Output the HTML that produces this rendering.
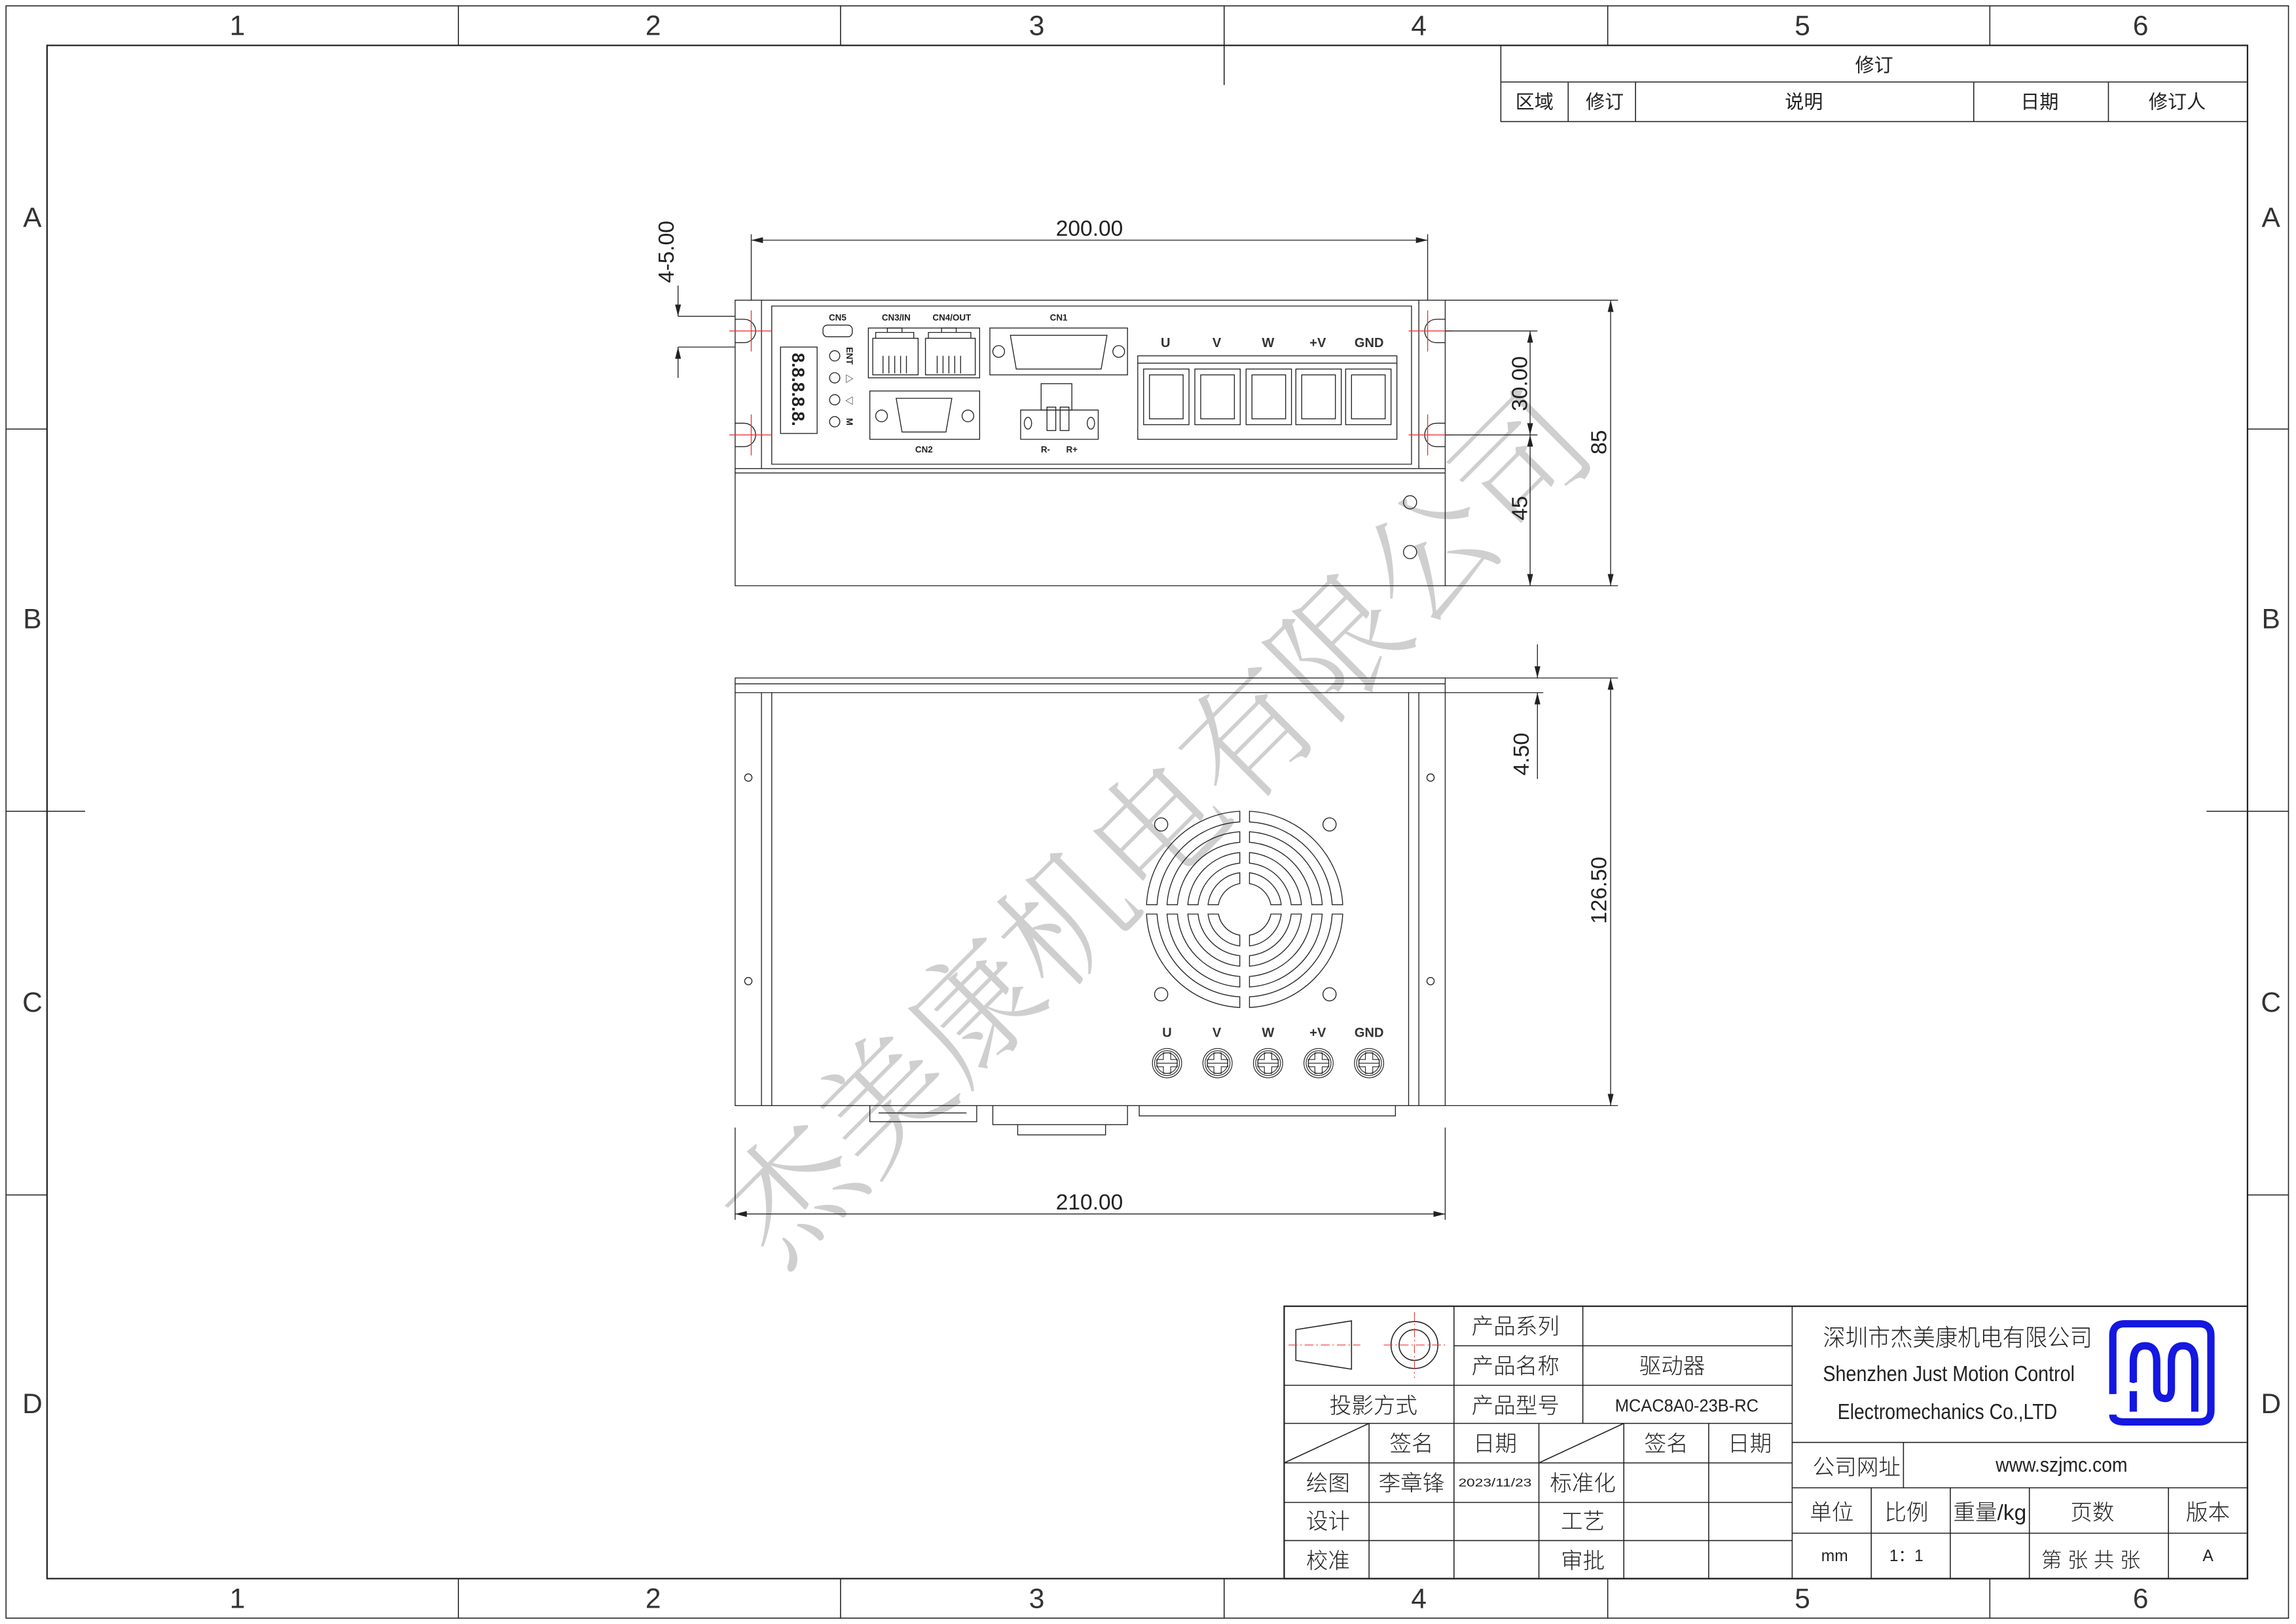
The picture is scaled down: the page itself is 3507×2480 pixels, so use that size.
<!DOCTYPE html>
<html><head><meta charset="utf-8"><style>
html,body{margin:0;padding:0;background:#fff}
svg{display:block}
text{font-family:"Liberation Sans","Noto Sans CJK SC",sans-serif}
.c{font-family:"Noto Sans CJK SC","Liberation Sans",sans-serif}
</style></head><body>
<svg width="3507" height="2480" viewBox="0 0 1568 1109" xmlns="http://www.w3.org/2000/svg">
<rect width="1568" height="1109" fill="#fff"/>
<g fill="none" stroke="#222" stroke-width="0.7">
<rect x="4" y="4" width="1559" height="1101"/>
<rect x="32" y="31" width="1503" height="1047" stroke-width="1"/>
<path d="M313 4V31M574 4V31M836 4V58M1098 4V31M1359 4V31M313 1078V1105M574 1078V1105M836 1078V1105M1098 1078V1105M1359 1078V1105"/>
<path d="M4 293H32M4 554H58M4 816H32M1535 293H1563M1507 554H1563M1535 816H1563"/>
</g>
<g font-size="19" fill="#333" text-anchor="middle" font-family="Liberation Sans">
<text x="162" y="24">1</text><text x="446" y="24">2</text><text x="708" y="24">3</text><text x="969" y="24">4</text><text x="1231" y="24">5</text><text x="1462" y="24">6</text>
<text x="162" y="1098">1</text><text x="446" y="1098">2</text><text x="708" y="1098">3</text><text x="969" y="1098">4</text><text x="1231" y="1098">5</text><text x="1462" y="1098">6</text>
<text x="22" y="155">A</text><text x="22" y="429">B</text><text x="22" y="691">C</text><text x="22" y="965">D</text>
<text x="1551" y="155">A</text><text x="1551" y="429">B</text><text x="1551" y="691">C</text><text x="1551" y="965">D</text>
</g>
<g fill="none" stroke="#222" stroke-width="0.7">
<rect x="1025" y="31" width="510" height="52"/>
<path d="M1025 56H1535M1071 56V83M1117 56V83M1348 56V83M1440 56V83"/>
</g>
<g class="c" font-size="13" fill="#222" text-anchor="middle">
<text x="1280" y="49">修订</text>
<text x="1048" y="74">区域</text><text x="1096" y="74">修订</text><text x="1232" y="74">说明</text><text x="1393" y="74">日期</text><text x="1487" y="74">修订人</text>
</g>

<text class="c" x="790" y="597" font-size="88" fill="#cfcfcf" text-anchor="middle" font-weight="300" transform="rotate(-45 790 565)" style="font-family:'Noto Serif CJK SC','Noto Sans CJK SC',serif">杰美康机电有限公司</text>

<g fill="none" stroke="#222" stroke-width="0.6">
<path d="M502 205H987V320H502Z"/>
<path d="M527 209H964V317H527Z"/>
<path d="M502 320V400H987V320M502 323H987"/>
<path d="M502 218H508A8 8 0 0 1 508 234H502M502 289H508A8 8 0 0 1 508 305H502"/>
<path d="M987 218H981A8 8 0 0 0 981 234H987M987 289H981A8 8 0 0 0 981 305H987"/>
<path d="M520 205V320M969 205V320"/>
<circle cx="963" cy="343" r="4.5"/><circle cx="963" cy="377" r="4.5"/>
<rect x="533" y="237" width="25" height="59"/>
<circle cx="570" cy="243" r="3.5"/><circle cx="570" cy="258" r="3.5"/><circle cx="570" cy="273" r="3.5"/><circle cx="570" cy="288" r="3.5"/>
<rect x="562" y="222" width="20" height="8" rx="3"/>
<rect x="593" y="224" width="76" height="34"/>
<path d="M596 231H627V256H596ZM598 231V227H624V231M606 227V224H616V227"/>
<path d="M632 231H666V256H632ZM634 231V227H663V231M643 227V224H653V227"/>
<path d="M603 243V255M607 243V255M611 243V255M615 243V255M619 243V255M640 243V255M644 243V255M648 243V255M652 243V255M656 243V255"/>
<rect x="676" y="224" width="94" height="32"/>
<path d="M690 229H756L752 252H694Z"/>
<circle cx="682" cy="240" r="4"/><circle cx="764" cy="240" r="4"/>
<rect x="594" y="267" width="75" height="33"/>
<path d="M612 272H650L646 295H616Z"/>
<circle cx="602" cy="284" r="4"/><circle cx="661" cy="284" r="4"/>
<path d="M697 280H750V300H697Z"/>
<rect x="711" y="262" width="21" height="18"/>
<rect x="715" y="278" width="6" height="16"/><rect x="724" y="278" width="6" height="16"/>
<ellipse cx="702" cy="289" rx="2.5" ry="4"/><ellipse cx="745" cy="289" rx="2.5" ry="4"/>
<rect x="777" y="243" width="177" height="57"/>
<path d="M777 248H954"/>
<rect x="781" y="252" width="31" height="38"/><rect x="785" y="256" width="23" height="30"/>
<rect x="816" y="252" width="31" height="38"/><rect x="820" y="256" width="23" height="30"/>
<rect x="851" y="252" width="31" height="38"/><rect x="855" y="256" width="23" height="30"/>
<rect x="885" y="252" width="31" height="38"/><rect x="889" y="256" width="23" height="30"/>
<rect x="919" y="252" width="31" height="38"/><rect x="923" y="256" width="23" height="30"/>
</g>
<g stroke="#e33" stroke-width="0.6">
<path d="M498 226H527M513 212V240M498 297H527M513 283V311M962 226H992M975 212V240M962 297H992M975 283V311"/>
</g>
<g font-size="6" fill="#222" text-anchor="middle" font-weight="bold">
<text x="572" y="219">CN5</text><text x="612" y="219">CN3/IN</text><text x="650" y="219">CN4/OUT</text><text x="723" y="219">CN1</text><text x="631" y="309">CN2</text><text x="714" y="309">R-</text><text x="732" y="309">R+</text>
<text transform="translate(580 243) rotate(90)" text-anchor="middle" y="2">ENT</text>
<text x="580" y="261">▷</text><text x="580" y="276">◁</text>
<text transform="translate(580 288) rotate(90)" text-anchor="middle" y="2">M</text>
</g>
<text transform="translate(545 266) rotate(90)" text-anchor="middle" y="4" font-size="12" fill="#222" font-weight="bold">8.8.8.8.8.</text>
<g font-size="9" fill="#333" text-anchor="middle" font-weight="bold">
<text x="796" y="237">U</text><text x="831" y="237">V</text><text x="866" y="237">W</text><text x="900" y="237">+V</text><text x="935" y="237">GND</text>
</g>
<g stroke="#222" stroke-width="0.6" fill="none">
<path d="M513 160V205M975 160V205M513 164H975"/>
<path d="M987 205H1105M987 226H1050M987 297H1050M987 400H1105"/>
<path d="M1045 226V400M1100 205V400"/>
<path d="M463 195V216M463 237V258M463 216H502M463 237H502"/>
</g>
<g fill="#222">
<path d="M513 164l8-2v4z M975 164l-8-2v4z"/>
<path d="M1045 226l-2 8h4z M1045 297l-2-8h4z M1045 297l-2 8h4z M1045 400l-2-8h4z M1100 205l-2 8h4z M1100 400l-2-8h4z"/>
<path d="M463 216l-2-8h4z M463 237l-2 8h4z"/>
</g>
<g font-size="15" fill="#222" text-anchor="middle">
<text x="744" y="161">200.00</text>
<text transform="translate(1043 262) rotate(-90)">30.00</text>
<text transform="translate(1043 347) rotate(-90)">45</text>
<text transform="translate(1097 302) rotate(-90)">85</text>
<text transform="translate(460 172) rotate(-90)">4-5.00</text>
<text x="744" y="826">210.00</text>
<text transform="translate(1044 515) rotate(-90)">4.50</text>
<text transform="translate(1097 608) rotate(-90)">126.50</text>
</g>

<g fill="none" stroke="#222" stroke-width="0.6">
<rect x="502" y="463" width="485" height="292"/>
<path d="M502 467H987M502 473H987"/>
<path d="M520 473V755M527 473V755M962 473V755M969 473V755"/>
<circle cx="511" cy="531" r="2.5"/><circle cx="511" cy="670" r="2.5"/><circle cx="977" cy="531" r="2.5"/><circle cx="977" cy="670" r="2.5"/>
<circle cx="793" cy="563" r="4.5"/><circle cx="908" cy="563" r="4.5"/><circle cx="793" cy="679" r="4.5"/><circle cx="908" cy="679" r="4.5"/>
<path d="M594 755V766H667V755M600 760H660M678 755V768H770V755M695 768V775H755V768M778 755V762H953V755"/>
</g>
<g fill="none" stroke="#222" stroke-width="0.6">
<g id="quad">
<path d="M3.3 -67 A67 67 0 0 1 67 -3.2 H59.8 A59.8 59.8 0 0 0 3.3 -59.7Z
M3.3 -53 A53 53 0 0 1 53 -3.2 H45.9 A45.9 45.9 0 0 0 3.3 -45.8Z
M3.3 -38.8 A38.8 38.8 0 0 1 38.8 -3.2 H31.8 A31.8 31.8 0 0 0 3.3 -31.6Z
M3.3 -25 A25 25 0 0 1 25 -3.2 H17.9 A17.9 17.9 0 0 0 3.3 -17.6Z" transform="translate(850 621)"/>
</g>
<use href="#quad" transform="translate(1700 0) scale(-1 1)"/>
<use href="#quad" transform="translate(0 1242) scale(1 -1)"/>
<use href="#quad" transform="translate(1700 1242) scale(-1 -1)"/>
</g>
<g fill="none" stroke="#222" stroke-width="0.5">
<g id="sc"><circle cx="797" cy="726" r="10"/><circle cx="797" cy="726" r="8.5"/><circle cx="797" cy="726" r="7"/>
<path d="M794.5 719H799.5V723.5H804V728.5H799.5V733H794.5V728.5H790V723.5H794.5Z"/><path d="M790 726H804"/></g>
<use href="#sc" x="34.5"/><use href="#sc" x="69"/><use href="#sc" x="103.5"/><use href="#sc" x="138"/>
</g>
<g font-size="9" fill="#333" text-anchor="middle" font-weight="bold">
<text x="797" y="708">U</text><text x="831" y="708">V</text><text x="866" y="708">W</text><text x="900" y="708">+V</text><text x="935" y="708">GND</text>
</g>
<g stroke="#222" stroke-width="0.6" fill="none">
<path d="M502 770V833M987 770V833M502 829H987"/>
<path d="M987 463H1105M987 473H1054M987 755H1105"/>
<path d="M1050 440V463M1050 473V532M1100 463V755"/>
</g>
<g fill="#222">
<path d="M502 829l8-2v4z M987 829l-8-2v4z"/>
<path d="M1050 463l-2-8h4z M1050 473l-2 8h4z M1100 463l-2 8h4z M1100 755l-2-8h4z"/>
</g>

<g fill="none" stroke="#222" stroke-width="0.7">
<rect x="877" y="892" width="658" height="186" stroke-width="1"/>
<path d="M1224 892V1078"/>
<path d="M993 919H1224M877 946H1224M877 972H1224M877 999H1224M877 1026H1224M877 1052H1224"/>
<path d="M993 892V1078M1081 892V972M935 972V1078M1051 972V1078M1109 972V1078M1167 972V1078"/>
<path d="M877 999L935 972M1051 999L1109 972"/>
<path d="M1224 985H1535M1224 1016H1535M1224 1047H1535"/>
<path d="M1300 985V1016M1278 1016V1078M1332 1016V1078M1386 1016V1078M1481 1016V1078"/>
<path d="M885 908L923 902V935L885 929Z"/>
<circle cx="966" cy="918.5" r="16"/><circle cx="966" cy="918.5" r="10.5"/>
</g>
<g stroke="#e33" stroke-width="0.5" stroke-dasharray="6 2 1 2">
<path d="M880 918.5H929M945 918.5H988M966 896V941"/>
</g>
<g class="c" font-size="15" fill="#222" text-anchor="middle" font-weight="300">
<text x="1035" y="911">产品系列</text>
<text x="1035" y="938">产品名称</text><text x="1142" y="938">驱动器</text>
<text x="938" y="965">投影方式</text><text x="1035" y="965">产品型号</text>
<text x="964" y="991">签名</text><text x="1021" y="991">日期</text><text x="1138" y="991">签名</text><text x="1195" y="991">日期</text>
<text x="907" y="1018">绘图</text><text x="964" y="1018">李章锋</text><text x="1081" y="1018">标准化</text>
<text x="907" y="1044">设计</text><text x="1081" y="1044">工艺</text>
<text x="907" y="1071">校准</text><text x="1081" y="1071">审批</text>
<text x="1268" y="1007">公司网址</text>
<text x="1251" y="1038">单位</text><text x="1302" y="1038">比例</text><text x="1359" y="1038">重量/kg</text><text x="1429" y="1038">页数</text><text x="1508" y="1038">版本</text>
<text x="1428" y="1070" font-size="14">第 张 共 张</text>
<text x="1337" y="919" font-size="16" textLength="184" lengthAdjust="spacingAndGlyphs">深圳市杰美康机电有限公司</text>
</g>
<g font-size="12" fill="#222" text-anchor="middle" font-family="Liberation Sans">
<text x="1152" y="964" textLength="98" lengthAdjust="spacingAndGlyphs">MCAC8A0-23B-RC</text>
<text x="1021" y="1015" font-size="8" textLength="50" lengthAdjust="spacingAndGlyphs">2023/11/23</text>
<text x="1408" y="1005" font-size="14" textLength="90" lengthAdjust="spacingAndGlyphs">www.szjmc.com</text>
<text x="1331" y="943" font-size="15" textLength="172" lengthAdjust="spacingAndGlyphs">Shenzhen Just Motion Control</text>
<text x="1330" y="969" font-size="15" textLength="150" lengthAdjust="spacingAndGlyphs">Electromechanics Co.,LTD</text>
<text x="1253" y="1066" font-size="11">mm</text><text x="1302" y="1066" font-size="11">1：1</text><text x="1508" y="1066" font-size="11">A</text>
</g>
<g fill="none" stroke="#1418e0">
<path d="M1443 952V912Q1443 904 1451 904H1502Q1510 904 1510 912V963Q1510 971 1502 971H1451Q1443 971 1443 966" stroke-width="5"/>
<path d="M1457 964V950M1457 944V930Q1457 919 1465 919Q1473 919 1473 930V948Q1473 955 1479 955Q1483 955 1483 948V930Q1483 919 1491 919Q1499 919 1499 930V964" stroke-width="5"/>
</g>
<circle cx="1457" cy="942" r="2.5" fill="#1418e0"/>
</svg>
</body></html>
